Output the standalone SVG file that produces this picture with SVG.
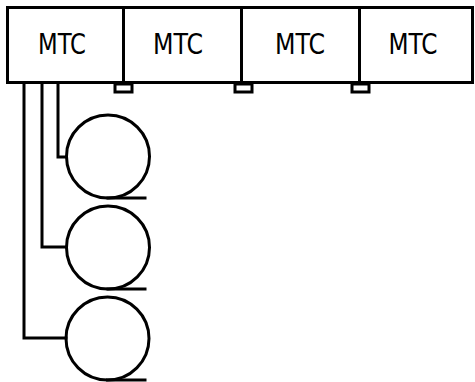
<svg xmlns="http://www.w3.org/2000/svg" width="475" height="382" viewBox="0 0 475 382">
<style>
.ln{fill:none;stroke:#000;stroke-width:3;stroke-linejoin:miter;stroke-linecap:square}
.bx{fill:#fff;stroke:#000;stroke-width:3}
.t{font-family:"DejaVu Sans Condensed","DejaVu Sans",sans-serif;font-size:28px;fill:#000;text-anchor:middle}
</style>
<rect width="475" height="382" fill="#fff"/>
<g id="connectors">
<path class="ln" d="M58 84 V157 H66"/>
<path class="ln" d="M42 84 V247 H66"/>
<path class="ln" d="M24 84 V338 H66"/>
</g>
<g id="mtc1"><rect class="bx" x="7.5" y="7.5" width="116" height="75"/><text class="t" x="62" y="54" textLength="48" lengthAdjust="spacingAndGlyphs">MTC</text></g>
<g id="mtc2"><rect class="bx" x="123.5" y="7.5" width="118" height="75"/><text class="t" x="178" y="54" textLength="50" lengthAdjust="spacingAndGlyphs">MTC</text></g>
<g id="mtc3"><rect class="bx" x="241.5" y="7.5" width="118" height="75"/><text class="t" x="300" y="54" textLength="50" lengthAdjust="spacingAndGlyphs">MTC</text></g>
<g id="mtc4"><rect class="bx" x="359.5" y="7.5" width="113" height="75"/><text class="t" x="413" y="54" textLength="49" lengthAdjust="spacingAndGlyphs">MTC</text></g>
<g id="term1"><rect class="bx" x="115" y="84" width="17" height="8"/></g>
<g id="term2"><rect class="bx" x="235" y="84" width="17" height="8"/></g>
<g id="term3"><rect class="bx" x="352" y="84" width="17" height="8"/></g>
<g id="tape1"><circle class="ln" cx="108" cy="156.5" r="41.5"/><path class="ln" d="M108 198 H145"/></g>
<g id="tape2"><circle class="ln" cx="108" cy="247.5" r="41.5"/><path class="ln" d="M108 289 H145"/></g>
<g id="tape3"><circle class="ln" cx="107.5" cy="338.5" r="41.5"/><path class="ln" d="M107.5 380 H145"/></g>
</svg>
